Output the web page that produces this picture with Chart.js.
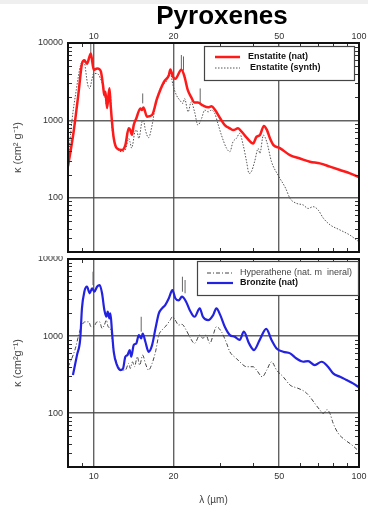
<!DOCTYPE html>
<html>
<head>
<meta charset="utf-8">
<script src="https://cdn.jsdelivr.net/npm/chart.js@4.4.1/dist/chart.umd.min.js"></script>
<style>
  html, body { margin: 0; padding: 0; background: #fff; }
  #wrap { position: relative; width: 368px; height: 512px; overflow: hidden; }
  #strip { position: absolute; left: 0; top: 0; width: 368px; height: 4px; background: #efefef; }
  canvas { position: absolute; left: 0; }
  #cTop { top: 0; }
  #cBot { top: 256px; }
</style>
</head>
<body>
<div id="wrap">
  <canvas id="cTop" width="368" height="256" style="width:368px;height:256px"></canvas>
  <canvas id="cBot" width="368" height="256" style="width:368px;height:256px"></canvas>
  <div id="strip"></div>
</div>
<script>
// ---- axis ticks ----
const xTicks = [10, 20, 50, 100];
const yTicks = [100, 1000, 10000];
const xMinor = [9, 30, 40, 60, 70, 80, 90];
const yMinor = [30, 40, 50, 60, 70, 80, 90, 200, 300, 400, 500, 600, 700, 800, 900,
                2000, 3000, 4000, 5000, 6000, 7000, 8000, 9000];

// ---- Enstatite (natural) : wavelength [um], kappa [cm^2 g^-1] ----
const enstNatWl = [8.0, 8.4, 8.77, 9.03, 9.22, 9.43, 9.75, 10.0, 10.3, 10.5, 10.65, 10.84, 10.97, 11.07,
  11.23, 11.46, 11.56, 11.72, 11.9, 12.24, 12.79, 13.16, 13.55, 13.74, 13.94, 14.15, 14.47, 14.99,
  15.2, 15.4, 15.88, 16.58, 17.33, 18.4, 19.2, 19.45, 19.9, 20.3, 21.4, 22.0, 22.6, 23.3, 24.0,
  24.7, 25.8, 27.0, 27.8, 28.6, 30.0, 31.2, 32.6, 33.6, 35.0, 36.1, 37.7, 39.9, 41.1, 42.3, 43.8,
  44.9, 46.2, 47.6, 50.3, 54.9, 59.9, 65.3, 71.2, 77.7, 84.8, 92.5, 100];
const enstNatK = [255, 715, 2300, 5400, 6000, 5400, 7300, 4500, 4700, 4600, 4250, 2850, 2100, 2350,
  1450, 2600, 1750, 960, 590, 435, 415, 480, 790, 750, 650, 870, 1060, 1430,
  1360, 1470, 1120, 1170, 1920, 3150, 3840, 4550, 3660, 3450, 4500, 3660, 2500, 2000, 1700,
  1700, 1560, 1480, 1520, 1380, 1060, 870, 790, 750, 790, 715, 600, 505, 616, 646, 850,
  760, 586, 480, 440, 357, 323, 293, 279, 253, 229, 207, 185];

// ---- Enstatite (synthetic) ----
const enstSynWl = [8.0, 8.28, 8.6, 8.9, 9.16, 9.5, 9.66, 9.86, 10.0, 10.3, 10.6, 10.9, 11.2, 11.56,
  11.7, 11.9, 12.2, 12.8, 13.2, 13.55, 13.7, 13.9, 14.3, 14.5, 14.8, 15.2, 15.4, 15.66, 16.1,
  16.6, 17.1, 17.8, 18.9, 19.4, 19.9, 20.5, 21.1, 21.7, 22.0, 22.7, 23.3, 24.0, 24.7, 25.5,
  26.2, 27.0, 27.8, 28.6, 29.5, 30.3, 31.7, 32.6, 33.5, 34.5, 35.5, 36.6, 37.7, 38.5, 39.3,
  40.4, 41.7, 42.3, 43.6, 44.9, 46.8, 49.6, 52.9, 55.0, 58.1, 61.6, 64.3, 67.2, 70.1, 73.3,
  77.7, 84.8, 92.5, 100];
const enstSynK = [290, 1000, 2500, 5000, 6000, 2860, 2590, 3480, 4040, 4040, 3480, 2590, 1575, 2120,
  870, 586, 435, 395, 430, 586, 530, 440, 715, 750, 586, 960, 1000, 750, 600,
  870, 1575, 2590, 3320, 4250, 2860, 2120, 1830, 1660, 1920, 1290, 1740, 1290, 870, 1060,
  1360, 1290, 1360, 1230, 870, 646, 435, 395, 530, 586, 680, 480, 293, 207, 218,
  293, 435, 375, 646, 530, 293, 195, 133, 98, 85, 81, 73, 77, 70, 55,
  45, 38.5, 33, 27];

// narrow features of the synthetic sample
const enstSpikeWl = [9.75, 15.3, 21.4, 21.8, 25.2];
const enstSpikeLo = [7300, 1660, 4400, 4400, 1660];
const enstSpikeHi = [10000, 2230, 7000, 6700, 2590];

// ---- Bronzite (natural) ----
const bronzWl = [8.35, 8.65, 8.9, 9.03, 9.22, 9.43, 9.66, 9.86, 10.06, 10.29, 10.53, 10.75, 10.97,
  11.17, 11.29, 11.46, 11.56, 11.72, 11.9, 12.24, 12.6, 12.9, 13.16, 13.4, 13.67, 13.85, 14.15,
  14.47, 14.8, 15.1, 15.3, 15.66, 16.1, 16.6, 17.1, 17.6, 18.1, 18.6, 19.2, 19.8, 20.3, 20.9,
  21.5, 22.3, 23.0, 24.0, 25.1, 25.8, 27.0, 28.2, 29.0, 30.0, 31.2, 32.6, 34.0, 35.5, 36.8,
  38.5, 40.2, 42.3, 44.7, 46.8, 48.9, 51.8, 55.0, 58.1, 61.6, 64.3, 68.1, 72.3, 76.4, 79.9,
  84.8, 89.7, 94.9, 100];
const bronzK = [312, 566, 933, 2290, 3760, 4370, 3590, 4170, 3760, 4370, 4590, 3590, 2180,
  1780, 2070, 1700, 1970, 1140, 625, 420, 362, 380, 540, 566, 658, 540, 764,
  803, 1030, 933, 1080, 844, 625, 764, 1260, 1970, 2290, 2520, 3090, 3960, 3090, 2900,
  3240, 2790, 2180, 1780, 2290, 1780, 1610, 1870, 2290, 1870, 1320, 1030, 980, 890, 1140,
  803, 658, 900, 1240, 890, 692, 625, 596, 512, 464, 474, 420, 464, 400, 328,
  296, 269, 243, 216];

// ---- Hyperathene (natural mineral) ----
const hyperWl = [8.0, 8.17, 8.53, 8.78, 9.03, 9.3, 9.58, 9.77, 10.0, 10.29, 10.53, 10.75, 10.97,
  11.17, 11.33, 11.56, 11.9, 12.24, 12.79, 13.16, 13.55, 13.74, 14.0, 14.25, 14.6, 14.9, 15.3,
  15.66, 16.1, 16.6, 17.1, 17.6, 18.1, 18.6, 19.4, 19.8, 20.3, 20.9, 21.5, 22.3, 23.0, 24.0,
  25.1, 25.8, 26.5, 27.4, 28.2, 29.0, 30.3, 31.7, 32.6, 34.5, 35.5, 37.7, 39.9, 41.1, 43.2,
  44.9, 46.8, 48.9, 51.8, 55.0, 58.9, 62.6, 65.3, 68.1, 71.2, 73.3, 75.8, 77.7, 79.9, 83.4,
  88.5, 93.7, 100];
const hyperK = [400, 464, 692, 1030, 1390, 1530, 1530, 1320, 1320, 1530, 1530, 1260, 1390,
  1610, 1320, 1260, 625, 442, 362, 362, 442, 380, 464, 400, 540, 420, 566,
  442, 362, 442, 625, 1030, 1200, 1320, 1600, 1780, 1610, 1390, 1420, 1200, 980, 803,
  1030, 933, 1030, 803, 1030, 1320, 1140, 803, 625, 512, 464, 400, 400, 362, 296,
  362, 464, 362, 296, 231, 210, 189, 163, 134, 110, 99, 111, 99, 74, 55,
  45, 39, 32];

const bronzSpikeWl = [9.94, 15.1, 21.6, 22.1];
const bronzSpikeLo = [4590, 1140, 3760, 3590];
const bronzSpikeHi = [6840, 1780, 5890, 5340];

// ---- helpers ----
const FONT = "'Liberation Sans', Arial, Helvetica, sans-serif";
Chart.defaults.font.family = FONT;
Chart.defaults.color = '#333';

function pts(xs, ys) { return xs.map((x, i) => ({ x: x, y: ys[i] })); }
function spikePts(xs, lo, hi) {
  const out = [];
  xs.forEach((x, i) => { out.push({ x: x, y: lo[i] }, { x: x, y: hi[i] }, { x: x, y: null }); });
  return out;
}

// frame round the plot plus small inward minor ticks
const frameTicks = {
  id: 'frameTicks',
  afterDatasetsDraw(chart) {
    const { ctx, chartArea: a, scales } = chart;
    ctx.save();
    ctx.strokeStyle = '#333';
    ctx.lineWidth = 1;
    ctx.beginPath();
    xMinor.forEach(v => {
      const p = Math.round(scales.x.getPixelForValue(v)) + 0.5;
      ctx.moveTo(p, a.bottom); ctx.lineTo(p, a.bottom - 4);
      ctx.moveTo(p, a.top); ctx.lineTo(p, a.top + 4);
    });
    yMinor.forEach(v => {
      const p = Math.round(scales.y.getPixelForValue(v)) + 0.5;
      ctx.moveTo(a.left, p); ctx.lineTo(a.left + 4, p);
      ctx.moveTo(a.right, p); ctx.lineTo(a.right - 4, p);
    });
    ctx.stroke();
    ctx.lineWidth = 2;
    ctx.strokeStyle = '#111';
    ctx.strokeRect(a.left, a.top, a.right - a.left, a.bottom - a.top);
    ctx.restore();
  }
};

// boxed legend inside the plot, upper right
function boxLegend(cfg) {
  return {
    id: 'boxLegend',
    afterDraw(chart) {
      const { ctx, chartArea: a } = chart;
      const bx = Math.round(a.right - cfg.offsetRight - cfg.width);
      const by = Math.round(a.top + cfg.offsetTop);
      ctx.save();
      ctx.fillStyle = '#fff';
      ctx.fillRect(bx, by, cfg.width, cfg.height);
      ctx.strokeStyle = '#444';
      ctx.lineWidth = 1.2;
      ctx.strokeRect(bx + 0.5, by + 0.5, cfg.width, cfg.height);
      cfg.entries.forEach((e, i) => {
        const ds = chart.data.datasets[e.dataset];
        const y = by + cfg.firstRow + i * cfg.rowGap;
        ctx.beginPath();
        ctx.setLineDash(ds.borderDash || []);
        ctx.strokeStyle = ds.borderColor;
        ctx.lineWidth = ds.borderWidth;
        ctx.moveTo(bx + cfg.lineFrom, y);
        ctx.lineTo(bx + cfg.lineTo, y);
        ctx.stroke();
        ctx.setLineDash([]);
        ctx.font = (e.bold ? 'bold ' : '') + '9px ' + FONT;
        ctx.fillStyle = e.color;
        ctx.textAlign = 'left';
        ctx.textBaseline = 'middle';
        ctx.fillText(ds.label, bx + cfg.textX + (e.dx || 0), y);
      });
      ctx.restore();
    }
  };
}

const headline = {
  id: 'headline',
  afterDraw(chart) {
    const { ctx } = chart;
    ctx.save();
    ctx.font = 'bold 26px ' + FONT;
    ctx.fillStyle = '#000';
    ctx.textAlign = 'center';
    ctx.textBaseline = 'middle';
    ctx.fillText('Pyroxenes', 222, 17);
    ctx.restore();
  }
};

function gridColor(list) {
  return c => (c.tick && list.includes(c.tick.value)) ? 'rgba(70,70,70,0.85)' : 'rgba(0,0,0,0)';
}

function xScale(position, height, title) {
  return {
    type: 'logarithmic', position: position, min: 8, max: 100,
    afterBuildTicks: s => { s.ticks = xTicks.map(v => ({ value: v })); },
    afterFit: s => { s.height = height; s.paddingLeft = 0; s.paddingRight = 0; },
    ticks: { autoSkip: false, maxRotation: 0, padding: position === 'top' ? 1 : 4,
             font: { size: 9 }, color: '#333', callback: v => String(v) },
    grid: { color: gridColor([10, 20, 50]), lineWidth: 1.4, drawTicks: false },
    border: { display: false },
    title: title
  };
}

function yScale(title) {
  return {
    type: 'logarithmic', min: 20, max: 10000,
    afterBuildTicks: s => { s.ticks = yTicks.map(v => ({ value: v })); },
    afterFit: s => { s.width = 68; s.paddingTop = 0; s.paddingBottom = 0; },
    ticks: { autoSkip: false, padding: 5, font: { size: 9 }, color: '#333', callback: v => String(v) },
    grid: { color: gridColor([100, 1000]), lineWidth: 1.4, drawTicks: false },
    border: { display: false },
    title: title
  };
}

const lineDefaults = { pointRadius: 0, fill: false, cubicInterpolationMode: 'monotone', spanGaps: false };

// ---- upper panel: enstatite ----
new Chart(document.getElementById('cTop'), {
  type: 'line',
  data: {
    datasets: [
      Object.assign({ label: 'Enstatite (nat)', data: pts(enstNatWl, enstNatK),
        borderColor: '#ff1a1a', borderWidth: 2.5 }, lineDefaults),
      Object.assign({ label: 'Enstatite (synth)', data: pts(enstSynWl, enstSynK),
        borderColor: '#555', borderWidth: 1, borderDash: [1.5, 1.5] }, lineDefaults),
      { label: 'spikes', data: spikePts(enstSpikeWl, enstSpikeLo, enstSpikeHi),
        borderColor: '#666', borderWidth: 1, pointRadius: 0, spanGaps: false, tension: 0 }
    ]
  },
  options: {
    responsive: false, animation: false, parsing: true,
    layout: { padding: { top: 0, right: 9, bottom: 4, left: 0 } },
    plugins: { legend: { display: false }, tooltip: { enabled: false } },
    scales: {
      x: xScale('top', 43, { display: false }),
      y: yScale({ display: true, text: 'κ (cm² g⁻¹)', font: { size: 11 }, color: '#444',
                  padding: { top: 11, bottom: 0 } })
    }
  },
  plugins: [frameTicks, headline, boxLegend({
    offsetRight: 5, offsetTop: 3, width: 150, height: 34,
    firstRow: 11, rowGap: 11, lineFrom: 11, lineTo: 36, textX: 44,
    entries: [
      { dataset: 0, bold: true, color: '#111' },
      { dataset: 1, bold: true, color: '#111', dx: 2 }
    ]
  })]
});

// ---- lower panel: bronzite / hyperathene ----
new Chart(document.getElementById('cBot'), {
  type: 'line',
  data: {
    datasets: [
      Object.assign({ label: 'Bronzite (nat)', data: pts(bronzWl, bronzK),
        borderColor: '#2222e0', borderWidth: 2.2 }, lineDefaults),
      Object.assign({ label: 'Hyperathene (nat. m  ineral)', data: pts(hyperWl, hyperK),
        borderColor: '#444', borderWidth: 1, borderDash: [4, 2, 1, 2] }, lineDefaults),
      { label: 'spikes', data: spikePts(bronzSpikeWl, bronzSpikeLo, bronzSpikeHi),
        borderColor: '#666', borderWidth: 1, pointRadius: 0, spanGaps: false, tension: 0 }
    ]
  },
  options: {
    responsive: false, animation: false,
    layout: { padding: { top: 3, right: 9, bottom: 0, left: 0 } },
    plugins: { legend: { display: false }, tooltip: { enabled: false } },
    scales: {
      x: xScale('bottom', 45, { display: true, text: 'λ (µm)', font: { size: 10 }, color: '#444',
                                padding: { top: 0, bottom: 6 } }),
      y: yScale({ display: true, text: 'κ (cm²g⁻¹)', font: { size: 11 }, color: '#444',
                  padding: { top: 11, bottom: 0 } })
    }
  },
  plugins: [frameTicks, boxLegend({
    offsetRight: 1, offsetTop: 2, width: 161, height: 34,
    firstRow: 12, rowGap: 10, lineFrom: 10, lineTo: 36, textX: 43,
    entries: [
      { dataset: 1, bold: false, color: '#444' },
      { dataset: 0, bold: true, color: '#111' }
    ]
  })]
});
</script>
</body>
</html>
